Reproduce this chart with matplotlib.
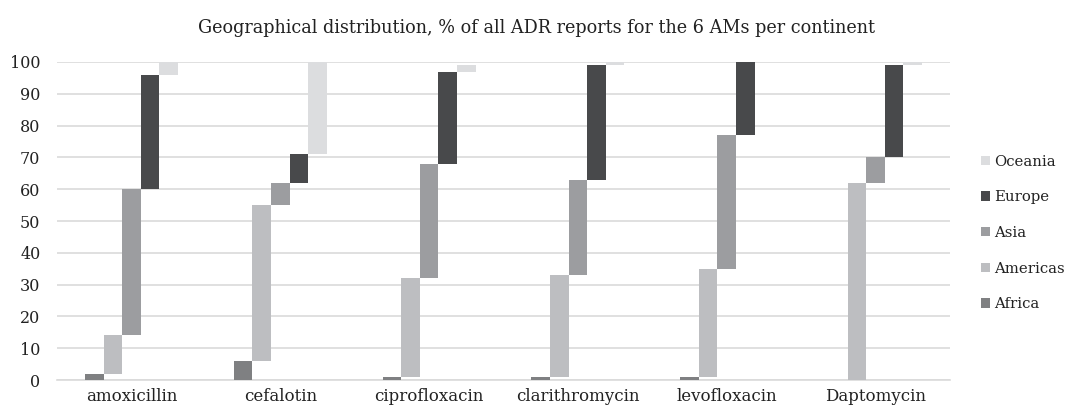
import matplotlib
matplotlib.use("Agg")
import matplotlib.pyplot as plt
import numpy as np
from matplotlib.patches import Patch

drugs = ["amoxicillin", "cefalotin", "ciprofloxacin", "clarithromycin", "levofloxacin", "Daptomycin"]
continents = ["Africa", "Americas", "Asia", "Europe", "Oceania"]
africa   = [2, 6, 1, 1, 1, 0]
americas = [12, 49, 31, 32, 34, 62]
asia     = [46, 7, 36, 30, 42, 8]
europe   = [36, 9, 29, 36, 23, 29]
oceania  = [4, 29, 2, 1, 0, 1]
colors = ["#7f8082", "#bdbec1", "#9c9da0", "#48494b", "#dcdddf"]

series = [africa, americas, asia, europe, oceania]

plt.rcParams['font.family'] = ['DejaVu Serif']
fig = plt.figure(figsize=(10.73, 4.11), dpi=100)
ax = fig.add_axes([57/1073, 31/411, (950-57)/1073, (380-62)/411])

x = np.arange(len(drugs))
w = 0.125
bottom = np.zeros(len(drugs))
for i, (name, vals, c) in enumerate(zip(continents, series, colors)):
    vals = np.array(vals, dtype=float)
    ax.bar(x + (i - 2) * w, vals, width=w, bottom=bottom, color=c, zorder=3)
    bottom = bottom + vals

ax.set_xlim(-0.5, len(drugs) - 0.5)
ax.set_ylim(0, 100)
ax.set_yticks(range(0, 101, 10))
ax.set_xticks(x)
ax.set_xticklabels(drugs, fontsize=12, color="#222222")
ax.tick_params(axis='y', labelsize=11.5, colors="#222222", length=0, pad=12)
ax.tick_params(axis='x', length=0, pad=6)
ax.grid(axis='y', color="#dadada", linewidth=1.2, zorder=0)
for s in ["top", "right", "left"]:
    ax.spines[s].set_visible(False)
ax.spines["bottom"].set_color("#dadada")
ax.spines["bottom"].set_linewidth(1.2)

fig.text(0.5, 1 - 28/411, "Geographical distribution, % of all ADR reports for the 6 AMs per continent",
         ha="center", va="center", fontsize=12.7, color="#222222")

handles = [Patch(facecolor=c, label=n) for n, c in zip(continents, colors)][::-1]
leg = fig.legend(handles=handles, loc="center left", bbox_to_anchor=(972/1073, 1 - 233/411),
                 frameon=False, fontsize=10.7, handlelength=0.6, handleheight=0.6,
                 handletextpad=0.3, labelspacing=1.45, borderaxespad=0.3, borderpad=0.3)
for t in leg.get_texts():
    t.set_color("#222222")

fig.savefig("out.png", dpi=100)
